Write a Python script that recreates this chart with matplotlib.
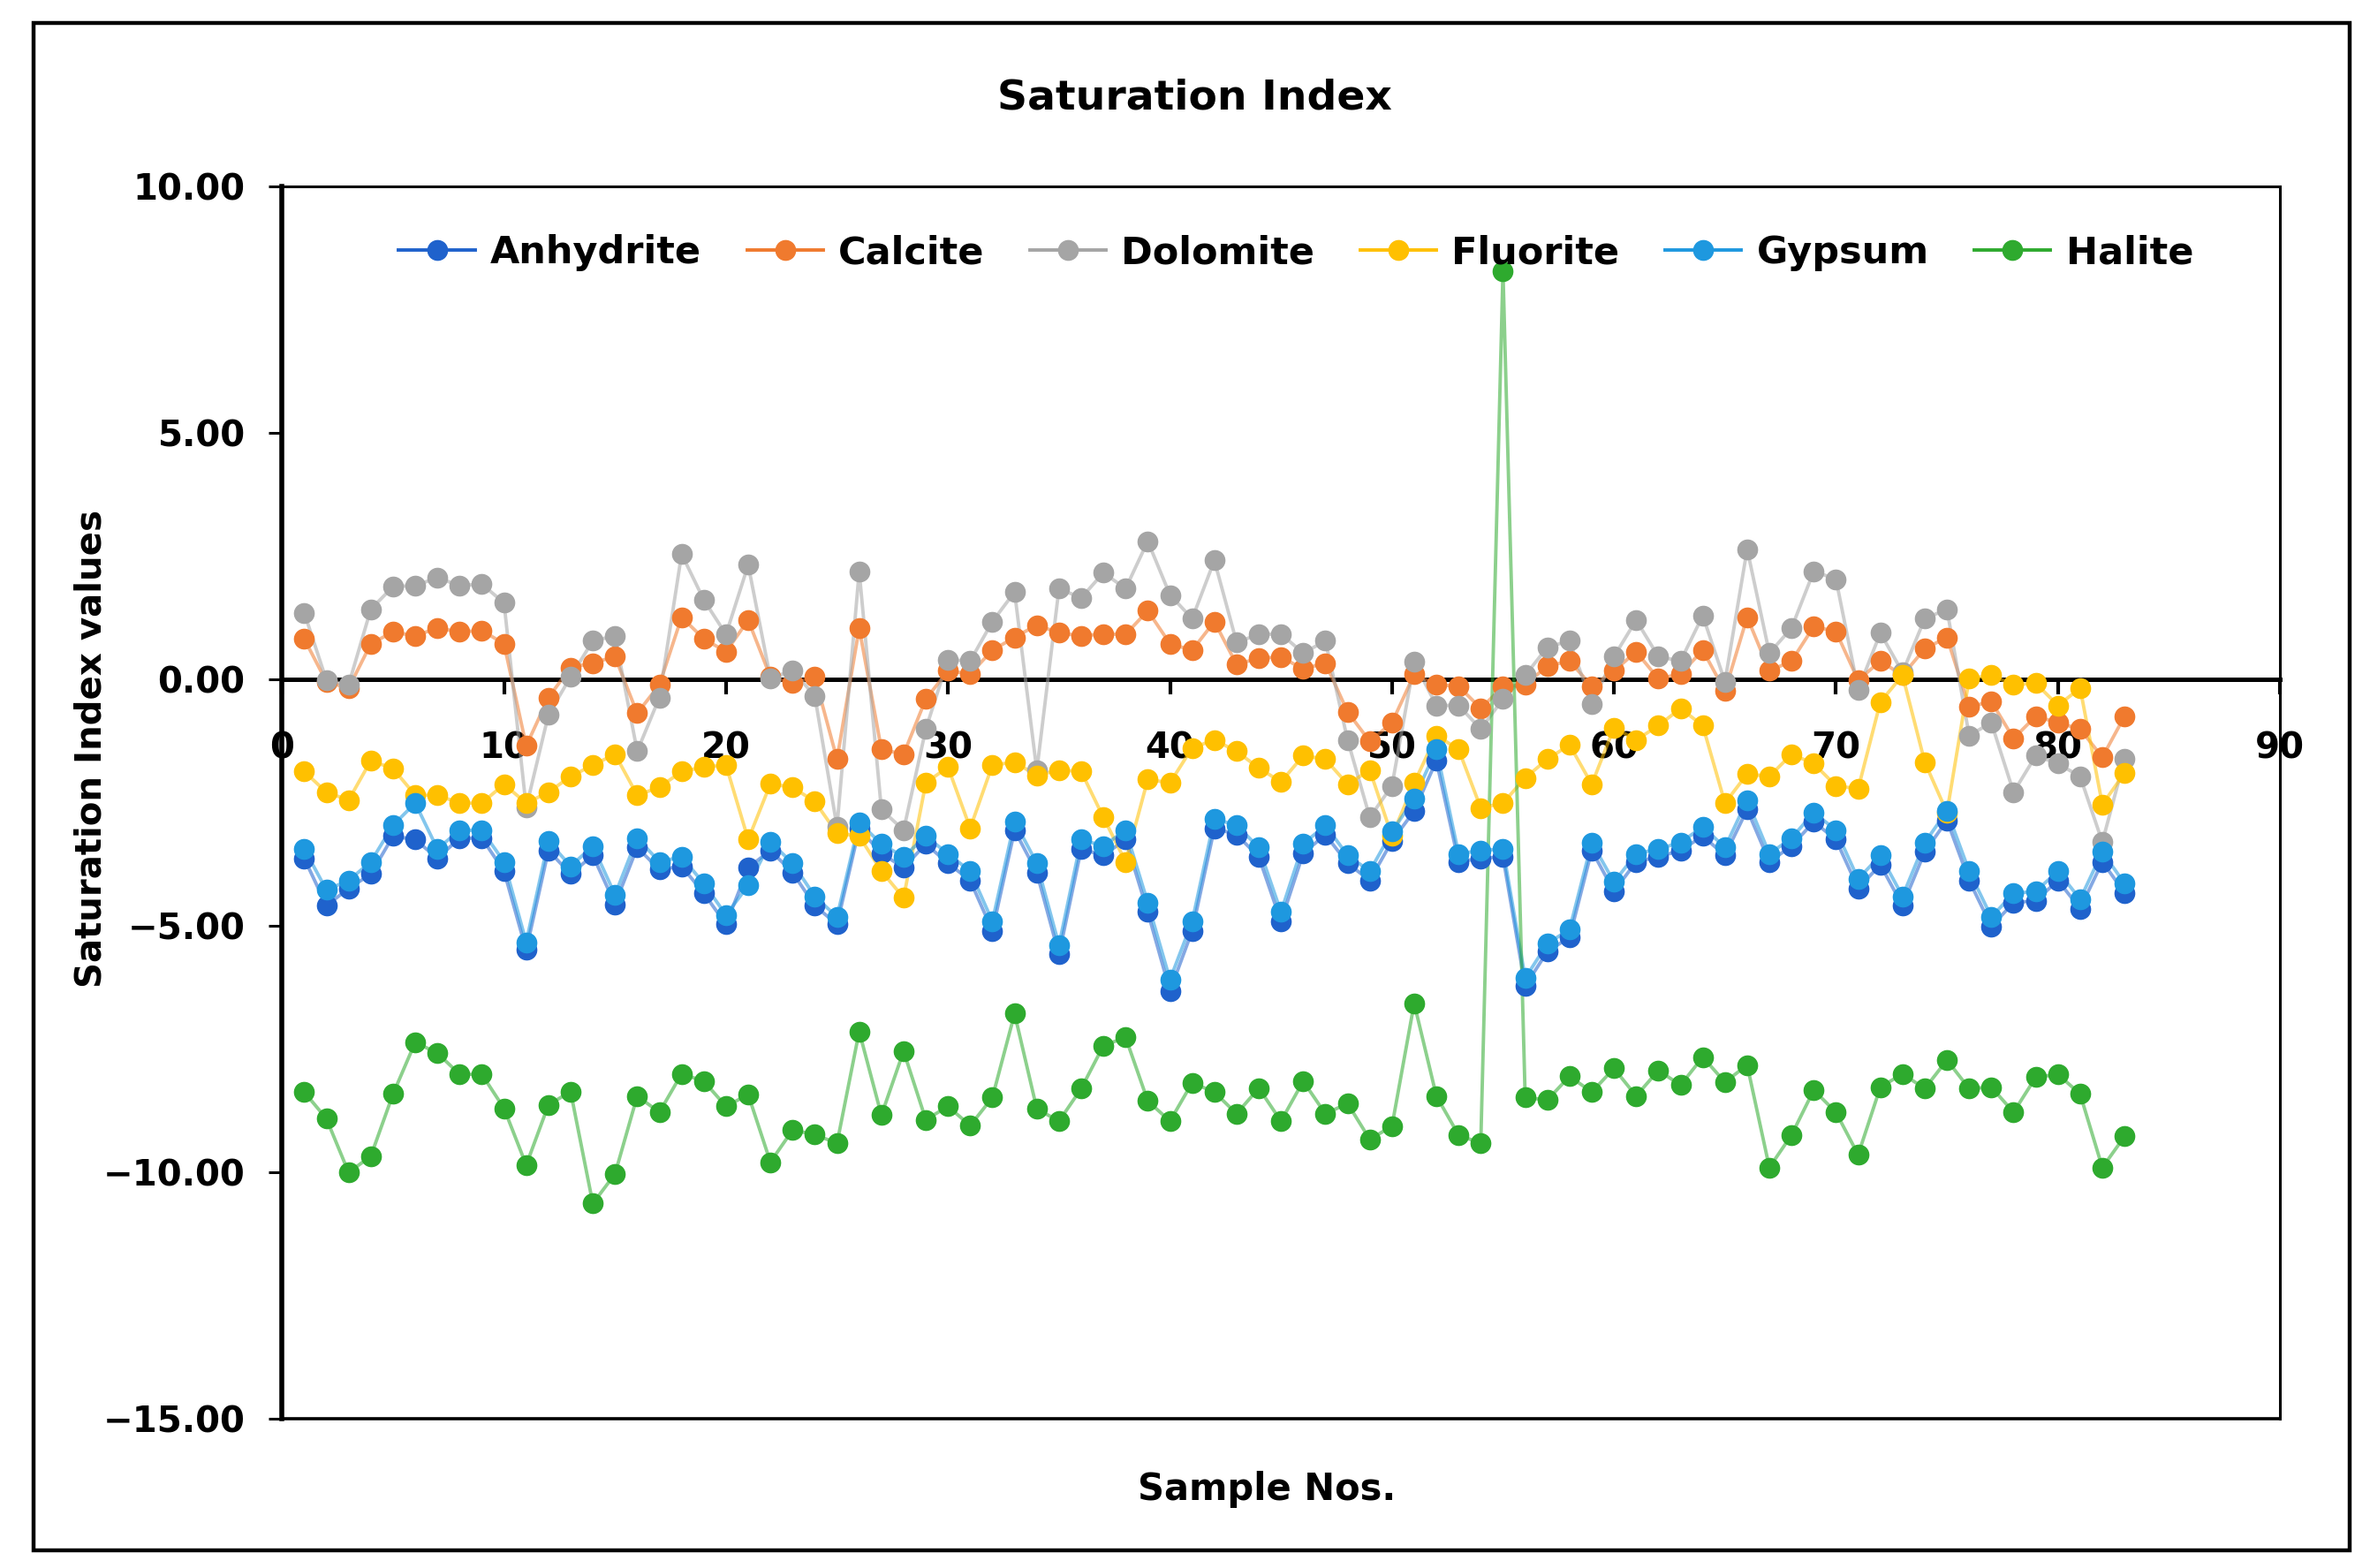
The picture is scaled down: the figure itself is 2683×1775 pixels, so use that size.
import matplotlib
matplotlib.use("Agg")
import matplotlib.pyplot as plt
from matplotlib.patches import Rectangle

# ---------------- data ----------------
samples = list(range(1, 84))

anhydrite = [-3.63, -4.59, -4.24, -3.95, -3.18, -3.25, -3.63, -3.22, -3.22, -3.89,
             -5.49, -3.47, -3.95, -3.57, -4.56, -3.41, -3.86, -3.79, -4.34, -4.97,
             -3.82, -3.47, -3.92, -4.59, -4.97, -3.03, -3.53, -3.82, -3.34, -3.73,
             -4.08, -5.10, -3.06, -3.92, -5.58, -3.44, -3.57, -3.25, -4.72, -6.32,
             -5.10, -3.02, -3.15, -3.60, -4.91, -3.53, -3.15, -3.73, -4.08, -3.28,
             -2.67, -1.65, -3.70, -3.63, -3.60, -6.22, -5.52, -5.23, -3.47, -4.30,
             -3.70, -3.60, -3.47, -3.18, -3.57, -2.64, -3.70, -3.38, -2.89, -3.25,
             -4.24, -3.76, -4.59, -3.50, -2.86, -4.08, -5.01, -4.53, -4.49, -4.08,
             -4.65, -3.70, -4.33]

calcite = [0.82, -0.05, -0.18, 0.72, 0.96, 0.88, 1.04, 0.96, 0.99, 0.72,
           -1.35, -0.37, 0.24, 0.33, 0.46, -0.69, -0.11, 1.26, 0.82, 0.56,
           1.20, 0.05, -0.08, 0.05, -1.62, 1.04, -1.42, -1.52, -0.40, 0.17,
           0.11, 0.59, 0.85, 1.10, 0.94, 0.88, 0.92, 0.91, 1.39, 0.72,
           0.59, 1.17, 0.30, 0.43, 0.45, 0.21, 0.33, -0.66, -1.26, -0.88,
           0.10, -0.11, -0.14, -0.59, -0.15, -0.11, 0.27, 0.37, -0.14, 0.17,
           0.56, 0.01, 0.11, 0.59, -0.24, 1.26, 0.17, 0.37, 1.07, 0.97,
           -0.02, 0.37, 0.08, 0.62, 0.85, -0.56, -0.45, -1.20, -0.75, -0.88,
           -1.01, -1.58, -0.75]

dolomite = [1.35, -0.02, -0.11, 1.42, 1.88, 1.90, 2.06, 1.90, 1.93, 1.55,
            -2.60, -0.72, 0.05, 0.78, 0.88, -1.46, -0.37, 2.54, 1.61, 0.91,
            2.32, 0.02, 0.18, -0.34, -2.99, 2.19, -2.64, -3.06, -1.01, 0.40,
            0.37, 1.17, 1.77, -1.85, 1.84, 1.65, 2.16, 1.84, 2.80, 1.71,
            1.23, 2.41, 0.75, 0.91, 0.92, 0.53, 0.78, -1.23, -2.80, -2.16,
            0.35, -0.53, -0.53, -1.01, -0.40, 0.08, 0.65, 0.78, -0.50, 0.46,
            1.20, 0.46, 0.37, 1.29, -0.05, 2.64, 0.53, 1.04, 2.19, 2.03,
            -0.21, 0.94, 0.14, 1.23, 1.42, -1.14, -0.88, -2.29, -1.55, -1.71,
            -1.97, -3.30, -1.62]

fluorite = [-1.87, -2.29, -2.45, -1.65, -1.81, -2.35, -2.35, -2.51, -2.51, -2.13,
            -2.51, -2.29, -1.97, -1.74, -1.52, -2.35, -2.19, -1.87, -1.78, -1.74,
            -3.25, -2.12, -2.19, -2.48, -3.12, -3.18, -3.89, -4.43, -2.10, -1.78,
            -3.02, -1.74, -1.68, -1.95, -1.84, -1.87, -2.80, -3.70, -2.03, -2.10,
            -1.39, -1.23, -1.46, -1.80, -2.08, -1.55, -1.62, -2.13, -1.84, -3.18,
            -2.10, -1.14, -1.42, -2.61, -2.51, -2.00, -1.62, -1.33, -2.13, -0.98,
            -1.23, -0.94, -0.59, -0.94, -2.51, -1.92, -1.97, -1.52, -1.71, -2.16,
            -2.22, -0.46, 0.08, -1.68, -2.70, 0.01, 0.08, -0.11, -0.08, -0.53,
            -0.18, -2.54, -1.90]

gypsum = [-3.44, -4.27, -4.08, -3.70, -2.96, -2.51, -3.44, -3.06, -3.06, -3.70,
          -5.33, -3.28, -3.79, -3.38, -4.37, -3.22, -3.70, -3.60, -4.14, -4.78,
          -4.18, -3.30, -3.73, -4.40, -4.82, -2.90, -3.34, -3.60, -3.18, -3.54,
          -3.89, -4.91, -2.88, -3.73, -5.39, -3.25, -3.38, -3.06, -4.53, -6.09,
          -4.91, -2.83, -2.96, -3.41, -4.72, -3.34, -2.96, -3.57, -3.89, -3.09,
          -2.42, -1.42, -3.54, -3.47, -3.44, -6.06, -5.36, -5.07, -3.31, -4.11,
          -3.54, -3.44, -3.31, -2.99, -3.41, -2.45, -3.54, -3.22, -2.70, -3.06,
          -4.05, -3.57, -4.40, -3.31, -2.67, -3.89, -4.82, -4.34, -4.30, -3.89,
          -4.46, -3.50, -4.14]

halite = [-8.37, -8.91, -10.00, -9.67, -8.41, -7.36, -7.58, -8.01, -8.01, -8.70,
          -9.85, -8.63, -8.36, -10.63, -10.03, -8.45, -8.78, -8.00, -8.15, -8.66,
          -8.42, -9.79, -9.14, -9.23, -9.41, -7.14, -8.84, -7.54, -8.93, -8.66,
          -9.05, -8.48, -6.78, -8.71, -8.96, -8.30, -7.43, -7.26, -8.55, -8.96,
          -8.18, -8.37, -8.81, -8.29, -8.96, -8.15, -8.81, -8.60, -9.33, -9.06,
          -6.57, -8.45, -9.24, -9.41, 8.28, -8.48, -8.53, -8.05, -8.37, -7.89,
          -8.45, -7.93, -8.23, -7.66, -8.17, -7.82, -9.90, -9.24, -8.33, -8.78,
          -9.64, -8.27, -8.00, -8.30, -7.72, -8.30, -8.27, -8.78, -8.07, -8.01,
          -8.41, -9.90, -9.27]

series_names = ["Anhydrite", "Calcite", "Dolomite", "Fluorite", "Gypsum", "Halite"]
series_values = [anhydrite, calcite, dolomite, fluorite, gypsum, halite]
series_colors = ["#1F62CC", "#F07A2E", "#A5A5A5", "#FFC000", "#1E98DF", "#2EAA2E"]

x_ticks = [0, 10, 20, 30, 40, 50, 60, 70, 80, 90]
x_tick_labels = ["0", "10", "20", "30", "40", "50", "60", "70", "80", "90"]
y_ticks = [10, 5, 0, -5, -10, -15]
y_tick_labels = ["10.00", "5.00", "0.00", "\u22125.00", "\u221210.00", "\u221215.00"]

title = "Saturation Index"
xlabel = "Sample Nos."
ylabel = "Saturation Index values"

# ---------------- figure ----------------
W, H = 2683, 1775
fig = plt.figure(figsize=(W / 100, H / 100), dpi=100)
fig.patch.set_facecolor("white")

# outer chart border
fig.patches.append(Rectangle((38 / W, 1 - 1755 / H), (2660 - 38) / W, (1755 - 26) / H,
                             transform=fig.transFigure, fill=False,
                             edgecolor="black", linewidth=3.2))

ax = fig.add_axes([0.1190, 0.0950, 0.8430, 0.7863])
ax.set_xlim(0, 90)
ax.set_ylim(-15, 10)

MS = 16
LW = 2.8
for name, vals, col in zip(series_names, series_values, series_colors):
    ax.plot(samples, vals, color=col, linewidth=LW, alpha=0.55, zorder=3)
    ax.plot(samples, vals, linestyle="none", marker="o", markersize=MS,
            color=col, zorder=4)
    # legend proxy
    ax.plot([], [], color=col, linewidth=LW, marker="o", markersize=MS,
            markerfacecolor=col, markeredgecolor=col, label=name)

# spines / frame
ax.spines["bottom"].set_position(("data", 0))
ax.spines["bottom"].set_linewidth(3.6)
ax.spines["bottom"].set_zorder(2)
ax.spines["left"].set_linewidth(4.0)
ax.spines["top"].set_linewidth(2.2)
ax.spines["right"].set_linewidth(2.2)
ax.axhline(-15, color="black", linewidth=2.6, clip_on=False, zorder=2)

ax.set_xticks(x_ticks)
ax.set_xticklabels(x_tick_labels)
ax.set_yticks(y_ticks)
ax.set_yticklabels(y_tick_labels)
ax.tick_params(axis="x", direction="out", length=12, width=3, pad=30,
               labelsize=29)
ax.tick_params(axis="y", direction="out", length=11, width=2.2, pad=19,
               labelsize=29)
for lbl in ax.get_xticklabels() + ax.get_yticklabels():
    lbl.set_fontweight("bold")

leg = ax.legend(loc="center", bbox_to_anchor=(0.5076, 0.946), ncol=6,
                frameon=False, handlelength=2.0, handletextpad=0.4,
                columnspacing=1.2, prop={"weight": "bold", "size": 31})
for h in leg.get_lines():
    h.set_alpha(1.0)

fig.text(0.504, 0.9375, title, ha="center", va="center",
         fontsize=34, fontweight="bold")
fig.text(0.5345, 0.0502, xlabel, ha="center", va="center",
         fontsize=30, fontweight="bold")
fig.text(0.0384, 0.5228, ylabel, ha="center", va="center", rotation=90,
         fontsize=29, fontweight="bold")

fig.savefig("out.png", dpi=100, facecolor="white")
